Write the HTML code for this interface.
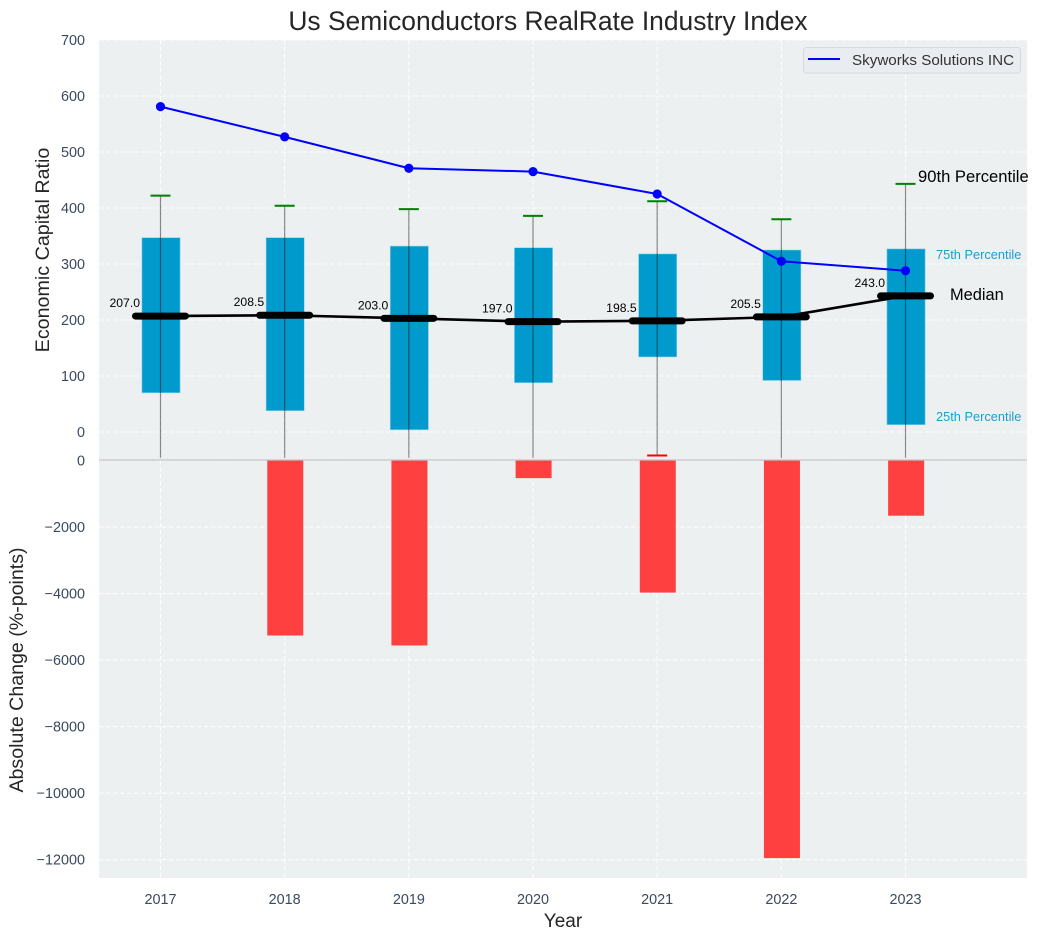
<!DOCTYPE html>
<html lang="en">
<head>
<meta charset="utf-8">
<title>Us Semiconductors RealRate Industry Index</title>
<style>
html,body{margin:0;padding:0;background:#fff;width:1038px;height:940px;overflow:hidden}
svg{display:block;font-family:"Liberation Sans",Arial,sans-serif}
</style>
</head>
<body>
<svg id="chart" xmlns="http://www.w3.org/2000/svg" width="1038" height="940" viewBox="0 0 1038 940"></svg>
<script>
const years = [2017, 2018, 2019, 2020, 2021, 2022, 2023];
const p90 = [422, 404, 398, 386, 412, 380, 443];
const p75 = [347, 347, 332, 329, 318, 325, 327];
const median = [207.0, 208.5, 203.0, 197.0, 198.5, 205.5, 243.0];
const p25 = [70, 38, 4, 88, 134, 92, 13];
const p10 = [-46, -46, -46, -46, -42, -46, -46];
const company = [581, 527, 471, 465, 425, 305, 288];
const absChange = [0, -5260, -5560, -530, -3970, -11950, -1660];
const upperTicks = [0, 100, 200, 300, 400, 500, 600, 700];
const lowerTicks = [0, -2000, -4000, -6000, -8000, -10000, -12000];
const legendLabel = "Skyworks Solutions INC";

const svg = document.getElementById('chart');
const NS = 'http://www.w3.org/2000/svg';
const left = 99, right = 1027, upTop = 40, split = 460, lowBottom = 878;
const x = v => 160.5 + (v - 2017) * 124.17;
const yUp = v => 432 - v * 0.56;
const yLow = v => 460.5 - v * 0.03327;

function mk(tag, attrs, name, parent) {
  const el = document.createElementNS(NS, tag);
  for (const k in attrs) el.setAttribute(k, attrs[k]);
  
  
  (parent || svg).appendChild(el);
  return el;
}
function txt(str, attrs, name) {
  const el = mk('text', attrs, name);
  el.textContent = str;
  return el;
}

mk('rect', {x: left, y: upTop, width: right - left, height: split - upTop, fill: '#ecf0f1'}, 'upper-plot-background');
mk('rect', {x: left, y: split, width: right - left, height: lowBottom - split, fill: '#ecf0f1'}, 'lower-plot-background');

const gridStyle = {stroke: '#ffffff', 'stroke-width': 1.1, 'stroke-dasharray': '4.5 2.5', opacity: 0.9};
years.forEach(yr => {
  mk('line', Object.assign({x1: x(yr), x2: x(yr), y1: upTop, y2: split}, gridStyle), 'upper-x-gridline');
  mk('line', Object.assign({x1: x(yr), x2: x(yr), y1: split, y2: lowBottom}, gridStyle), 'lower-x-gridline');
  txt(String(yr), {x: x(yr), y: 904, 'text-anchor': 'middle', 'font-size': 14.4, fill: '#3a4a60'}, 'x-tick-label');
});
upperTicks.forEach(t => {
  mk('line', Object.assign({x1: left, x2: right, y1: yUp(t), y2: yUp(t)}, gridStyle), 'upper-y-gridline');
  txt(String(t), {x: 85, y: yUp(t) + 5, 'text-anchor': 'end', 'font-size': 14.4, fill: '#3a4a60'}, 'upper-y-tick-label');
});
lowerTicks.forEach(t => {
  mk('line', Object.assign({x1: left, x2: right, y1: yLow(t), y2: yLow(t)}, gridStyle), 'lower-y-gridline');
  txt(String(t).replace('-', '\u2212'), {x: 85, y: yLow(t) + 5, 'text-anchor': 'end', 'font-size': 14.4, fill: '#3a4a60'}, 'lower-y-tick-label');
});

years.forEach((yr, i) => {
  const top = yUp(p75[i]), bot = yUp(p25[i]);
  mk('rect', {x: x(yr) - 18.6, y: top, width: 38.2, height: bot - top, fill: '#009acd', stroke: '#8fd3ea', 'stroke-width': 0.6}, 'iqr-bar-' + yr);
});
absChange.forEach((v, i) => {
  if (v === 0) return;
  mk('rect', {x: x(years[i]) - 17.4, y: 460.5, width: 36, height: yLow(v) - 460.5, fill: '#ff4040'}, 'absolute-change-bar-' + years[i]);
});
mk('line', {x1: left, x2: right, y1: 460, y2: 460, stroke: '#c2c4c6', 'stroke-width': 1.2}, 'axis-separator');

years.forEach((yr, i) => {
  mk('line', {x1: x(yr), x2: x(yr), y1: yUp(p90[i]), y2: yUp(p10[i]), stroke: '#000', 'stroke-opacity': 0.45, 'stroke-width': 1.2}, 'whisker-' + yr);
  mk('line', {x1: x(yr) - 10, x2: x(yr) + 10, y1: yUp(p90[i]), y2: yUp(p90[i]), stroke: '#008000', 'stroke-width': 2}, 'p90-cap-' + yr);
  if (p10[i] > -45) {
    mk('line', {x1: x(yr) - 10, x2: x(yr) + 10, y1: yUp(p10[i]), y2: yUp(p10[i]), stroke: '#ff0000', 'stroke-width': 2}, 'p10-cap-' + yr);
  }
});

mk('polyline', {points: years.map((yr, i) => x(yr) + ',' + yUp(median[i])).join(' '), fill: 'none', stroke: '#000', 'stroke-width': 2.6, 'stroke-linejoin': 'round'}, 'median-line');
years.forEach((yr, i) => {
  mk('line', {x1: x(yr) - 25, x2: x(yr) + 25, y1: yUp(median[i]), y2: yUp(median[i]), stroke: '#000', 'stroke-width': 7, 'stroke-linecap': 'round'}, 'median-marker-' + yr);
  txt(median[i].toFixed(1), {x: x(yr) - 20.5, y: yUp(median[i]) - 9, 'text-anchor': 'end', 'font-size': 12.2, fill: '#000'}, 'median-value-' + yr);
});

mk('polyline', {points: years.map((yr, i) => x(yr) + ',' + yUp(company[i])).join(' '), fill: 'none', stroke: '#0000ff', 'stroke-width': 2, 'stroke-linejoin': 'round'}, 'skyworks-line');
years.forEach((yr, i) => {
  mk('circle', {cx: x(yr), cy: yUp(company[i]), r: 4.6, fill: '#0000ff'}, 'skyworks-point-' + yr);
});

txt('90th Percentile', {x: 918, y: 182, 'font-size': 16.6, fill: '#000'}, 'p90-annotation');
txt('75th Percentile', {x: 936, y: 259, 'font-size': 12.8, fill: '#1a9fd2'}, 'p75-annotation');
txt('Median', {x: 950, y: 300, 'font-size': 16.4, fill: '#000'}, 'median-annotation');
txt('25th Percentile', {x: 936, y: 421, 'font-size': 12.8, fill: '#1a9fd2'}, 'p25-annotation');

mk('rect', {x: 803.5, y: 47.5, width: 217, height: 25.5, rx: 3, fill: '#e9ecf1', stroke: '#d6d9dd', 'stroke-width': 1}, 'legend-box');
mk('line', {x1: 808, x2: 840, y1: 59, y2: 59, stroke: '#0000ff', 'stroke-width': 2}, 'legend-line-swatch');
txt(legendLabel, {x: 852, y: 65, 'font-size': 15.2, fill: '#333'}, 'legend-label');

txt('Us Semiconductors RealRate Industry Index', {x: 548, y: 30, 'text-anchor': 'middle', 'font-size': 26.4, fill: '#262626'}, 'chart-title');
txt('Year', {x: 563, y: 927, 'text-anchor': 'middle', 'font-size': 19, fill: '#262626'}, 'x-axis-title');
txt('Economic Capital Ratio', {transform: 'translate(49,250) rotate(-90)', 'text-anchor': 'middle', 'font-size': 19.7, fill: '#262626'}, 'upper-y-axis-title');
txt('Absolute Change (%-points)', {transform: 'translate(23,670) rotate(-90)', 'text-anchor': 'middle', 'font-size': 19.6, fill: '#262626'}, 'lower-y-axis-title');
</script>
</body>
</html>
